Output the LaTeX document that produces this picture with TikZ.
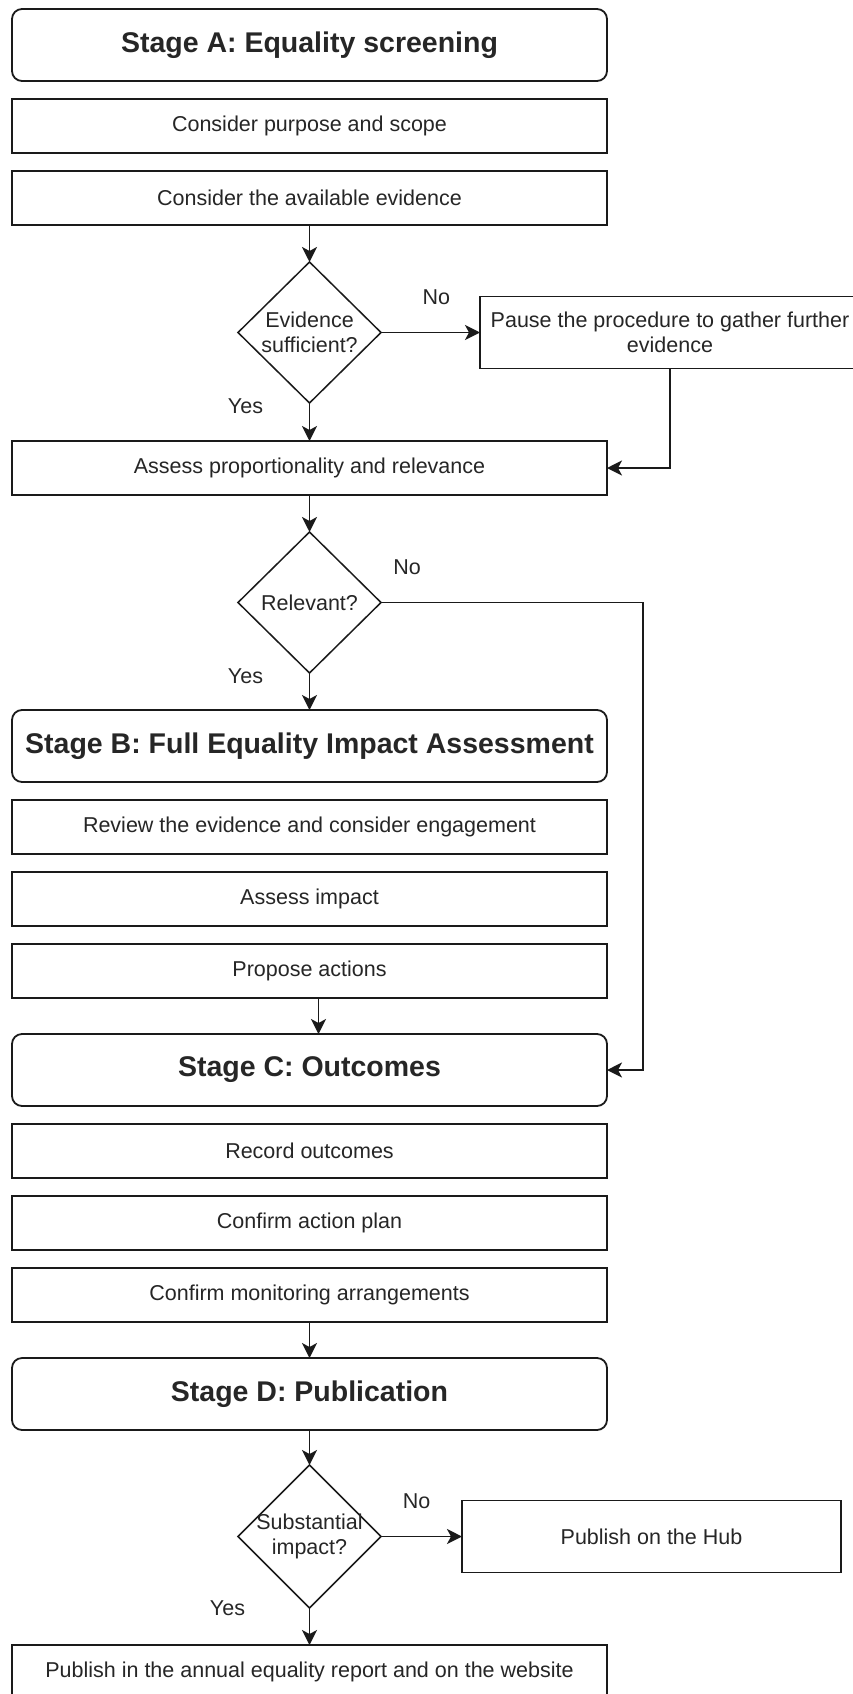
\documentclass[tikz,border=0pt]{standalone}
\usepackage{fontspec}
\setmainfont{Liberation Sans}
\usetikzlibrary{shapes.geometric, arrows.meta, positioning}
\definecolor{ink}{HTML}{1A1A1A}
\definecolor{txt}{HTML}{262626}

\begin{document}
\begin{tikzpicture}[
    x=1pt, y=1pt,
    node distance=18pt,
    every node/.style={outer sep=0pt, text=txt},
    stagebox/.style={draw=ink, fill=white, rounded corners=10pt, line width=1.8pt, minimum width=595pt, minimum height=72pt, font=\fontsize{28.5}{34}\selectfont\bfseries},
    stepbox/.style={draw=ink, fill=white, line width=1.8pt, minimum width=595pt, minimum height=54pt, font=\fontsize{21.5}{25}\selectfont},
    sidebox/.style={stepbox, minimum height=72pt, align=center},
    decision/.style={draw=ink, diamond, aspect=1, inner sep=0pt, line width=1.5pt, minimum width=143pt, minimum height=141pt, align=center, font=\fontsize{21.5}{25}\selectfont},
    lbl/.style={font=\fontsize{21.5}{25}\selectfont, inner sep=0pt},
    arr/.style={-{Stealth[length=15pt, width=15pt, inset=4pt]}, line width=1.7pt, draw=ink}
]
\useasboundingbox (0,0) rectangle (853,-1694);

% Stage A
\node[stagebox] (stageA) at (309.5,-45) {Stage A: Equality screening};
\node[stepbox, below=of stageA] (purpose) {Consider purpose and scope};
\node[stepbox, below=of purpose] (evidence) {Consider the available evidence};
\node[decision, below=37pt of evidence] (enough) {Evidence\\sufficient?};
\node[sidebox, minimum width=380pt, right=99pt of enough] (pause) {Pause the procedure to gather further\\evidence};
\node[stepbox, below=38pt of enough] (proportion) {Assess proportionality and relevance};
\node[decision, below=37pt of proportion] (relevant) {Relevant?};

% Stage B
\node[stagebox, below=37pt of relevant] (stageB) {Stage B: Full Equality Impact Assessment};
\node[stepbox, below=of stageB] (review) {Review the evidence and consider engagement};
\node[stepbox, below=of review] (impact) {Assess impact};
\node[stepbox, below=of impact] (actions) {Propose actions};

% Stage C
\node[stagebox, below=36pt of actions] (stageC) {Stage C: Outcomes};
\node[stepbox, below=of stageC] (record) {Record outcomes};
\node[stepbox, below=of record] (plan) {Confirm action plan};
\node[stepbox, below=of plan] (monitor) {Confirm monitoring arrangements};

% Stage D
\node[stagebox, below=36pt of monitor] (stageD) {Stage D: Publication};
\node[decision, inner xsep=-8pt, minimum height=143pt, below=35pt of stageD] (substantial) {Substantial\\impact?};
\node[sidebox, minimum width=379pt, right=81pt of substantial] (hub) {Publish on the Hub};
\node[stepbox, below=37pt of substantial] (annual) {Publish in the annual equality report and on the website};

% connectors
\draw[arr] (evidence) -- (enough);
\draw[arr] (enough) -- node[lbl, pos=0.56, yshift=35pt] {No} (pause);
\draw[arr] (enough) -- node[lbl, pos=0.08, xshift=-64pt] {Yes} (proportion);
\draw[arr] (pause.south) |- (proportion.east);
\draw[arr] (proportion) -- (relevant);
\draw[arr] (relevant.east) -- node[lbl, pos=0.1, yshift=35pt] {No} ([xshift=36pt]stageC.east |- relevant.east) |- (stageC.east);
\draw[arr] (relevant) -- node[lbl, pos=0.08, xshift=-64pt] {Yes} (stageB);
\draw[arr] ([xshift=9pt]actions.south) -- ([xshift=9pt]stageC.north);
\draw[arr] (monitor) -- (stageD);
\draw[arr] (stageD) -- (substantial);
\draw[arr] (substantial) -- node[lbl, pos=0.44, yshift=35pt] {No} (hub);
\draw[arr] (substantial) -- node[lbl, pos=0, xshift=-82pt] {Yes} (annual);
\end{tikzpicture}
\end{document}
